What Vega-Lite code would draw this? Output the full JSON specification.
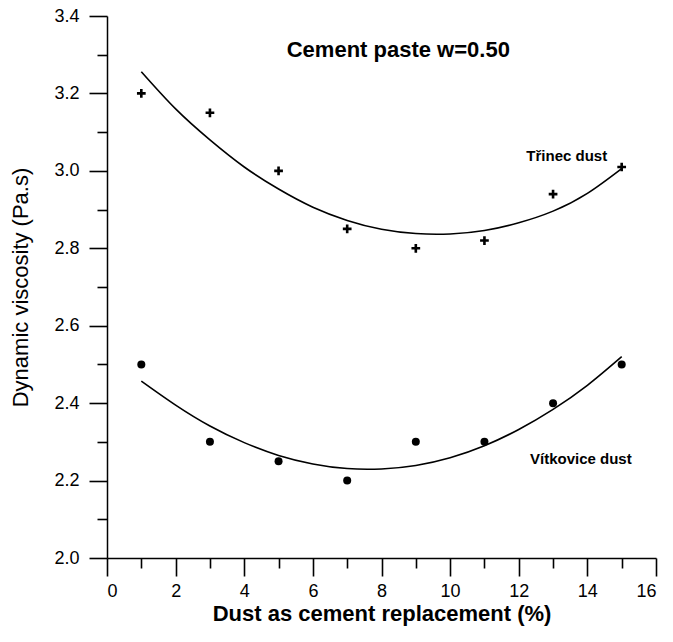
{
  "$schema": "https://vega.github.io/schema/vega-lite/v6.json",
  "width": 549,
  "height": 542,
  "autosize": "none",
  "padding": {"left": 107, "top": 16, "right": 17, "bottom": 84},
  "background": "white",
  "config": {
    "view": {"stroke": null},
    "font": "Liberation Sans",
    "axis": {
      "grid": false,
      "domainColor": "black",
      "tickColor": "black",
      "labelColor": "black",
      "titleColor": "black",
      "domainWidth": 1.5,
      "tickWidth": 1.6,
      "labelFont": "Liberation Sans",
      "titleFont": "Liberation Sans"
    }
  },
  "datasets": {
    "points": [
      {"series": "Třinec", "x": 1, "y": 3.2},
      {"series": "Třinec", "x": 3, "y": 3.15},
      {"series": "Třinec", "x": 5, "y": 3.0},
      {"series": "Třinec", "x": 7, "y": 2.85},
      {"series": "Třinec", "x": 9, "y": 2.8},
      {"series": "Třinec", "x": 11, "y": 2.82},
      {"series": "Třinec", "x": 13, "y": 2.94},
      {"series": "Třinec", "x": 15, "y": 3.01},
      {"series": "Vítkovice", "x": 1, "y": 2.5},
      {"series": "Vítkovice", "x": 3, "y": 2.3},
      {"series": "Vítkovice", "x": 5, "y": 2.25},
      {"series": "Vítkovice", "x": 7, "y": 2.2},
      {"series": "Vítkovice", "x": 9, "y": 2.3},
      {"series": "Vítkovice", "x": 11, "y": 2.3},
      {"series": "Vítkovice", "x": 13, "y": 2.4},
      {"series": "Vítkovice", "x": 15, "y": 2.5}
    ],
    "curves": [
      {"series": "Třinec", "x": 1, "y": 3.256},
      {"series": "Třinec", "x": 2, "y": 3.16},
      {"series": "Třinec", "x": 3, "y": 3.08},
      {"series": "Třinec", "x": 4, "y": 3.01},
      {"series": "Třinec", "x": 5, "y": 2.953},
      {"series": "Třinec", "x": 6, "y": 2.906},
      {"series": "Třinec", "x": 7, "y": 2.872},
      {"series": "Třinec", "x": 8, "y": 2.849},
      {"series": "Třinec", "x": 9, "y": 2.838},
      {"series": "Třinec", "x": 10, "y": 2.837},
      {"series": "Třinec", "x": 11, "y": 2.846},
      {"series": "Třinec", "x": 12, "y": 2.866},
      {"series": "Třinec", "x": 13, "y": 2.896},
      {"series": "Třinec", "x": 14, "y": 2.942},
      {"series": "Třinec", "x": 15, "y": 3.006},
      {"series": "Vítkovice", "x": 1, "y": 2.457},
      {"series": "Vítkovice", "x": 2, "y": 2.395},
      {"series": "Vítkovice", "x": 3, "y": 2.341},
      {"series": "Vítkovice", "x": 4, "y": 2.298},
      {"series": "Vítkovice", "x": 5, "y": 2.265},
      {"series": "Vítkovice", "x": 6, "y": 2.243},
      {"series": "Vítkovice", "x": 7, "y": 2.231},
      {"series": "Vítkovice", "x": 8, "y": 2.23},
      {"series": "Vítkovice", "x": 9, "y": 2.239},
      {"series": "Vítkovice", "x": 10, "y": 2.259},
      {"series": "Vítkovice", "x": 11, "y": 2.29},
      {"series": "Vítkovice", "x": 12, "y": 2.332},
      {"series": "Vítkovice", "x": 13, "y": 2.384},
      {"series": "Vítkovice", "x": 14, "y": 2.446},
      {"series": "Vítkovice", "x": 15, "y": 2.52}
    ],
    "seriesLabels": [
      {"label": "Třinec dust", "x": 13.4, "y": 3.026},
      {"label": "Vítkovice dust", "x": 13.81, "y": 2.243}
    ],
    "heading": [
      {"label": "Cement paste w=0.50", "x": 8.49, "y": 3.295}
    ]
  },
  "layer": [
    {
      "data": {"name": "curves"},
      "mark": {"type": "line", "color": "black", "strokeWidth": 1.6, "interpolate": "natural"},
      "encoding": {
        "x": {
          "field": "x", "type": "quantitative",
          "scale": {"domain": [0, 16], "nice": false, "zero": false},
          "axis": {"orient": "bottom", "values": [1, 3, 5, 7, 9, 11, 13, 15], "labels": false, "domain": false, "tickSize": 10, "title": null}
        },
        "y": {
          "field": "y", "type": "quantitative",
          "scale": {"domain": [2.0, 3.4], "nice": false, "zero": false},
          "axis": {"orient": "left", "values": [2.1, 2.3, 2.5, 2.7, 2.9, 3.1, 3.3], "labels": false, "domain": false, "tickSize": 10, "title": null}
        },
        "detail": {"field": "series"}
      }
    },
    {
      "data": {"name": "points"},
      "mark": {"type": "point", "filled": true, "color": "black", "opacity": 1, "strokeWidth": 0},
      "encoding": {
        "x": {
          "field": "x", "type": "quantitative",
          "scale": {"domain": [0, 16], "nice": false, "zero": false},
          "axis": {
            "orient": "bottom", "values": [0, 2, 4, 6, 8, 10, 12, 14, 16], "tickSize": 18,
            "labelFontSize": 18, "labelPadding": 6,
            "title": "Dust as cement replacement (%)", "titleFontSize": 22, "titleFontWeight": "bold", "titlePadding": 3
          }
        },
        "y": {
          "field": "y", "type": "quantitative",
          "scale": {"domain": [2.0, 3.4], "nice": false, "zero": false},
          "axis": {
            "orient": "left", "values": [2.0, 2.2, 2.4, 2.6, 2.8, 3.0, 3.2, 3.4], "format": ".1f", "tickSize": 18,
            "labelFontSize": 18, "labelPadding": 10,
            "title": "Dynamic viscosity (Pa.s)", "titleFontSize": 22, "titleFontWeight": "normal", "titlePadding": 21
          }
        },
        "shape": {
          "field": "series", "type": "nominal",
          "scale": {"domain": ["Třinec", "Vítkovice"], "range": ["M-1,-0.3H1V0.3H-1Z M-0.3,-1H0.3V1H-0.3Z", "circle"]},
          "legend": null
        },
        "size": {
          "field": "series", "type": "nominal",
          "scale": {"domain": ["Třinec", "Vítkovice"], "range": [76, 64]},
          "legend": null
        }
      }
    },
    {
      "data": {"name": "seriesLabels"},
      "mark": {"type": "text", "font": "Liberation Sans", "fontSize": 15, "fontWeight": "bold", "color": "black", "align": "center", "baseline": "alphabetic"},
      "encoding": {
        "x": {"field": "x", "type": "quantitative", "scale": {"domain": [0, 16], "nice": false, "zero": false}, "axis": null},
        "y": {"field": "y", "type": "quantitative", "scale": {"domain": [2.0, 3.4], "nice": false, "zero": false}, "axis": null},
        "text": {"field": "label"}
      }
    },
    {
      "data": {"name": "heading"},
      "mark": {"type": "text", "font": "Liberation Sans", "fontSize": 22, "fontWeight": "bold", "color": "black", "align": "center", "baseline": "alphabetic"},
      "encoding": {
        "x": {"field": "x", "type": "quantitative", "scale": {"domain": [0, 16], "nice": false, "zero": false}, "axis": null},
        "y": {"field": "y", "type": "quantitative", "scale": {"domain": [2.0, 3.4], "nice": false, "zero": false}, "axis": null},
        "text": {"field": "label"}
      }
    }
  ],
  "resolve": {"axis": {"x": "independent", "y": "independent"}}
}
